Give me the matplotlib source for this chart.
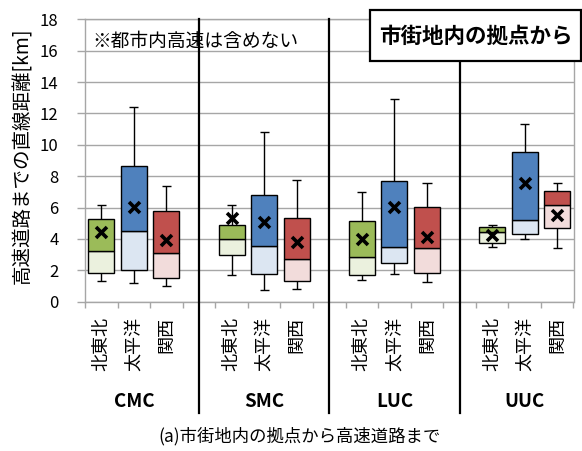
import matplotlib
matplotlib.use("Agg")
import matplotlib.pyplot as plt
from matplotlib.patches import Rectangle

plt.rcParams['font.family'] = ['Noto Sans CJK JP', 'DejaVu Sans']

groups = ['CMC', 'SMC', 'LUC', 'UUC']
regions = ['北東北', '太平洋', '関西']

# statistics per (group, region), in group order
whisker_low = [1.34, 1.19, 0.98, 1.68, 0.75, 0.81, 1.38, 1.76, 1.25, 3.48, 3.97, 3.44]
q1 = [1.83, 2.02, 1.53, 2.99, 1.74, 1.30, 1.70, 2.46, 1.83, 3.76, 4.29, 4.67]
median = [3.23, 4.50, 3.10, 4.01, 3.53, 2.72, 2.85, 3.46, 3.42, 4.46, 5.20, 6.16]
q3 = [5.27, 8.64, 5.76, 4.87, 6.80, 5.35, 5.12, 7.71, 6.05, 4.76, 9.55, 7.05]
whisker_high = [6.18, 12.42, 7.37, 6.18, 10.83, 7.73, 7.01, 12.95, 7.58, 4.91, 11.32, 7.56]
mean = [4.42, 6.05, 3.93, 5.31, 5.06, 3.78, 4.01, 6.01, 4.12, 4.23, 7.54, 5.52]

upper_colors = ['#9BBB59', '#4F81BD', '#C0504D']
lower_colors = ['#EBF1DE', '#DCE6F2', '#F2DCDB']

y_ticks = [0, 2, 4, 6, 8, 10, 12, 14, 16, 18]
y_label = '高速道路までの直線距離[km]'
note = '※都市内高速は含めない'
title = '市街地内の拠点から'
caption = '(a)市街地内の拠点から高速道路まで'

fig = plt.figure(figsize=(5.82, 4.51), dpi=100)
ax = fig.add_axes([85 / 582, 1 - 301.7 / 451, (573.5 - 85) / 582, (301.7 - 19.3) / 451])

grid_c = '#A6A6A6'
n_slots = len(groups) * (len(regions) + 1) - 1
ax.set_xlim(-0.5, n_slots - 0.5)
ax.set_ylim(0, 18)
ax.set_yticks(y_ticks)
ax.yaxis.grid(True, color=grid_c, linewidth=1.0)
ax.set_axisbelow(True)
for s in ['left', 'right', 'top', 'bottom']:
    ax.spines[s].set_color(grid_c)
    ax.spines[s].set_linewidth(1.0)
ax.tick_params(axis='y', colors=grid_c, length=6, width=1.0, pad=13, labelsize=12,
               labelcolor='black')
ax.set_xticks([i - 0.5 for i in range(n_slots + 1)], minor=True)
ax.set_xticks([])
ax.tick_params(axis='x', which='minor', colors=grid_c, length=4, width=1.0)

bw = 0.8
cap = 0.28
positions = []
for g in range(len(groups)):
    for r in range(len(regions)):
        positions.append(g * (len(regions) + 1) + r)

for k, x in enumerate(positions):
    r = k % len(regions)
    ax.vlines(x, q3[k], whisker_high[k], color='black', linewidth=1.0, zorder=2)
    ax.vlines(x, whisker_low[k], q1[k], color='black', linewidth=1.0, zorder=2)
    ax.hlines([whisker_low[k], whisker_high[k]], x - cap / 2, x + cap / 2,
              color='black', linewidth=1.0, zorder=2)
    ax.bar(x, median[k] - q1[k], bottom=q1[k], width=bw, color=lower_colors[r],
           edgecolor='black', linewidth=1.0, zorder=3)
    ax.bar(x, q3[k] - median[k], bottom=median[k], width=bw, color=upper_colors[r],
           edgecolor='black', linewidth=1.0, zorder=3)
    ax.scatter(x, mean[k], marker='x', s=62, color='black', linewidths=2.6, zorder=4)
    ax.text(x, -0.055, regions[r], rotation=90, ha='center', va='top', fontsize=13,
            transform=ax.get_xaxis_transform())

# separators between groups
xt = ax.get_xaxis_transform()
for g in range(1, len(groups)):
    sx = g * (len(regions) + 1) - 1
    ax.plot([sx, sx], [1, -0.394], color='black', linewidth=1.6, transform=xt,
            clip_on=False, zorder=5)

for g, name in enumerate(groups):
    cx = g * (len(regions) + 1) + 1
    ax.text(cx, -0.355, name, ha='center', va='center', fontsize=13.5,
            fontweight='bold', transform=xt)

ax.text(-0.27, 16.6, note, ha='left', va='center', fontsize=13.5)

fig.text(23 / 582, 1 - 156 / 451, y_label, rotation=90, ha='center', va='center',
         fontsize=14)

# title box
fig.patches.append(Rectangle((370 / 582, 1 - 61 / 451), 211 / 582, 51 / 451,
                             transform=fig.transFigure, facecolor='white',
                             edgecolor='black', linewidth=1.6, zorder=10))
fig.text(475.5 / 582, 1 - 36 / 451, title, ha='center', va='center', fontsize=15.5,
         fontweight='bold', zorder=11)

fig.text(299 / 582, 1 - 436 / 451, caption, ha='center', va='center', fontsize=12.5)

fig.savefig('out.png', dpi=100)
